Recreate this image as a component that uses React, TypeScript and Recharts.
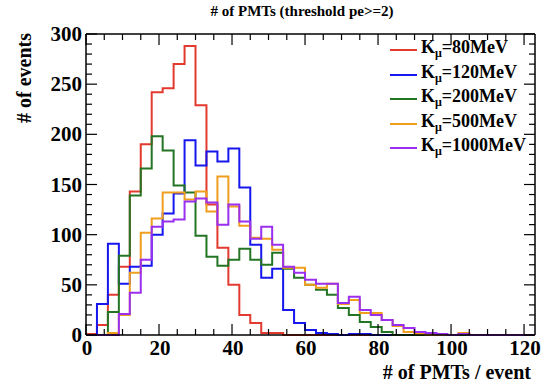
import React from "react";
import { Line, LineChart, XAxis, YAxis } from "recharts";

// histogram contents, bins of width 3 starting at 0
const BIN = 3;
const red = [1, 10, 40, 68, 143, 190, 242, 246, 270, 288, 229, 130, 87, 50, 20, 12, 2, 2, 0, 0, 0, 0, 0, 0, 0, 0, 0, 0, 0, 0, 0, 0, 0, 0, 0, 0, 0, 0, 0, 0, 0];
const blue = [0, 31, 91, 51, 68, 69, 100, 121, 141, 194, 169, 183, 173, 186, 147, 90, 57, 66, 25, 12, 5, 2, 1, 0, 1, 1, 0, 0, 0, 0, 0, 0, 0, 0, 0, 0, 0, 0, 0, 0, 0];
const green = [0, 0, 23, 79, 139, 166, 198, 184, 149, 142, 99, 78, 69, 75, 86, 75, 70, 82, 66, 57, 50, 45, 40, 27, 20, 13, 8, 3, 0, 0, 0, 0, 0, 0, 0, 0, 0, 0, 0, 0, 0];
const orange = [0, 0, 2, 20, 62, 102, 116, 142, 142, 135, 143, 123, 158, 128, 109, 97, 96, 85, 67, 67, 50, 47, 51, 31, 35, 22, 22, 15, 9, 3, 1, 0, 0, 0, 2, 0, 0, 0, 0, 0, 0];
const purple = [0, 0, 0, 21, 42, 75, 108, 113, 115, 133, 136, 132, 110, 130, 113, 96, 108, 90, 68, 62, 55, 51, 51, 32, 38, 25, 20, 15, 10, 7, 3, 2, 1, 0, 1, 0, 0, 0, 0, 0, 0];

const xTicks = [0, 5, 10, 15, 20, 25, 30, 35, 40, 45, 50, 55, 60, 65, 70, 75, 80, 85, 90, 95, 100, 105, 110, 115, 120];
const yTicks = [0, 10, 20, 30, 40, 50, 60, 70, 80, 90, 100, 110, 120, 130, 140, 150, 160, 170, 180, 190, 200, 210, 220, 230, 240, 250, 260, 270, 280, 290, 300];

const series = [
  { key: "red", label: "80MeV", color: "#e33a2f" },
  { key: "blue", label: "120MeV", color: "#1616ee" },
  { key: "green", label: "200MeV", color: "#237523" },
  { key: "orange", label: "500MeV", color: "#f09e1e" },
  { key: "purple", label: "1000MeV", color: "#9a2ff0" },
];

const rows = red.map((_, i) => ({
  x: i * BIN,
  red: red[i],
  blue: blue[i],
  green: green[i],
  orange: orange[i],
  purple: purple[i],
}));
const last = rows[rows.length - 1];
rows.push({ ...last, x: red.length * BIN });

const FONT = "'Liberation Serif', 'Times New Roman', serif";

const BottomTick = ({ x, y, payload }: any) => {
  const major = payload.value % 20 === 0;
  return (
    <g>
      <line x1={x} x2={x} y1={y} y2={y - (major ? 11 : 6)} stroke="#000" strokeWidth={1.2} />
      {major && (
        <text x={x + 1} y={y + 20} textAnchor="middle" fontFamily={FONT} fontWeight="bold" fontSize={21} fill="#000">
          {payload.value}
        </text>
      )}
    </g>
  );
};

const TopTick = ({ x, y, payload }: any) => {
  const major = payload.value % 20 === 0;
  return <line x1={x} x2={x} y1={y} y2={y + (major ? 11 : 6)} stroke="#000" strokeWidth={1.2} />;
};

const LeftTick = ({ x, y, payload }: any) => {
  const major = payload.value % 50 === 0;
  return (
    <g>
      <line x1={x} x2={x + (major ? 11 : 6)} y1={y} y2={y} stroke="#000" strokeWidth={1.2} />
      {major && (
        <text x={x - 4} y={y + 7} textAnchor="end" fontFamily={FONT} fontWeight="bold" fontSize={21} fill="#000">
          {payload.value}
        </text>
      )}
    </g>
  );
};

const RightTick = ({ x, y, payload }: any) => {
  const major = payload.value % 50 === 0;
  return <line x1={x} x2={x - (major ? 11 : 6)} y1={y} y2={y} stroke="#000" strokeWidth={1.2} />;
};

const axisCommon = {
  tickSize: 0,
  tickMargin: 0,
  tickLine: false,
  interval: 0 as const,
  axisLine: { stroke: "#000", strokeWidth: 1.5 },
};

export default function App() {
  return (
    <div style={{ position: "absolute", left: 0, top: 0, width: 550, height: 387, background: "#fff", fontFamily: FONT }}>
      <LineChart width={550} height={387} data={rows} margin={{ top: 33, right: 14, bottom: 51, left: 85 }}>
        <XAxis xAxisId="bottom" dataKey="x" type="number" domain={[0, 123]} ticks={xTicks} height={1} tick={BottomTick} {...axisCommon} />
        <XAxis xAxisId="top" orientation="top" dataKey="x" type="number" domain={[0, 123]} ticks={xTicks} height={1} tick={TopTick} {...axisCommon} />
        <YAxis yAxisId="left" type="number" domain={[0, 300]} ticks={yTicks} width={1} tick={LeftTick} {...axisCommon} />
        <YAxis yAxisId="right" orientation="right" type="number" domain={[0, 300]} ticks={yTicks} width={1} tick={RightTick} {...axisCommon} />
        {/* invisible series so the top/right frame axes get a domain */}
        <Line xAxisId="top" yAxisId="right" dataKey="red" type="stepAfter" stroke="none" dot={false} activeDot={false} isAnimationActive={false} />
        {series.map((s) => (
          <Line
            key={s.key}
            xAxisId="bottom"
            yAxisId="left"
            dataKey={s.key}
            type="stepAfter"
            stroke={s.color}
            strokeWidth={2}
            dot={false}
            activeDot={false}
            isAnimationActive={false}
          />
        ))}
      </LineChart>

      <div style={{ position: "absolute", left: 302, top: 3, transform: "translateX(-50%)", fontSize: 15, fontWeight: "bold", whiteSpace: "nowrap" }}>
        # of PMTs (threshold pe&gt;=2)
      </div>
      <div
        style={{
          position: "absolute",
          left: 24,
          top: 78,
          transform: "translate(-50%, -50%) rotate(-90deg)",
          fontSize: 20,
          fontWeight: "bold",
          whiteSpace: "nowrap",
        }}
      >
        # of events
      </div>
      <div style={{ position: "absolute", right: 19, top: 362, fontSize: 20, fontWeight: "bold", whiteSpace: "nowrap", lineHeight: "20px" }}>
        # of PMTs / event
      </div>

      <div style={{ position: "absolute", left: 390, top: 38 }}>
        {series.map((s) => (
          <div key={s.key} style={{ display: "flex", alignItems: "center", height: 24.5 }}>
            <div style={{ width: 27, height: 2, background: s.color, marginRight: 4 }} />
            <span style={{ fontSize: 18, fontWeight: "bold", whiteSpace: "nowrap", lineHeight: "20px" }}>
              K<sub style={{ fontSize: 12, verticalAlign: "-4px" }}>μ</sub>={s.label}
            </span>
          </div>
        ))}
      </div>
    </div>
  );
}
